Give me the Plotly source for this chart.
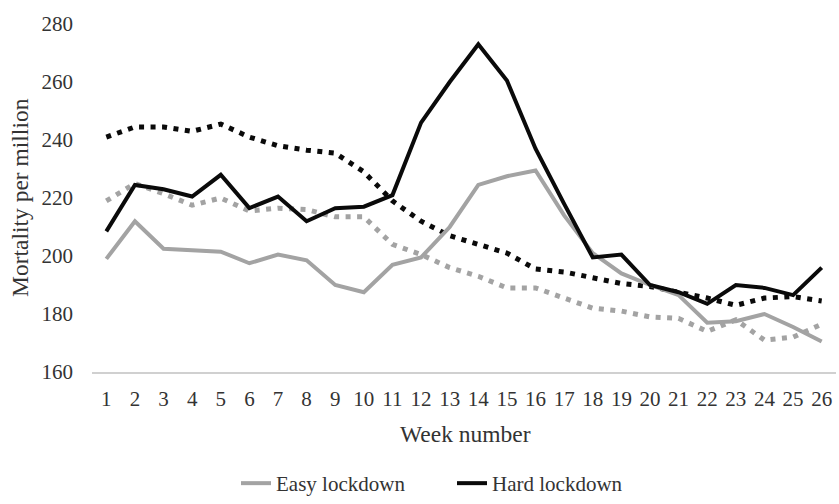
import plotly.graph_objects as go

weeks = list(range(1, 27))

easy_lockdown = [199, 212, 202.5, 202, 201.5, 197.5, 200.5, 198.5, 190, 187.5,
                 197, 199.5, 210, 224.5, 227.5, 229.5, 214, 201, 194, 190,
                 186.5, 177, 177.5, 180, 175.5, 170.5]
hard_lockdown = [208.5, 224.5, 223, 220.5, 228, 216.5, 220.5, 212, 216.5, 217,
                 221, 246, 260, 273, 260.5, 237, 218, 199.5, 200.5, 190,
                 187.5, 183.5, 190, 189, 186.5, 196]
easy_reference = [219, 225, 221.5, 217.5, 220, 215.5, 216.5, 216, 213.5, 213.5,
                  204, 200.5, 196, 193, 189, 189, 185.5, 182, 181, 179,
                  178.5, 174, 178, 171, 172, 176.5]
hard_reference = [241, 244.5, 244.5, 243, 245.5, 241, 238, 236.5, 235.5, 229,
                  219, 212, 207, 204, 201, 195.5, 194.5, 192.5, 190.5, 189.5,
                  187.5, 185.5, 183, 185.5, 186, 184.5]
y_ticks = [160, 180, 200, 220, 240, 260, 280]

GRAY = "#a3a3a3"
BLACK = "#0a0a0a"
FONT = "Liberation Serif"
TXT = "#333333"

fig = go.Figure()
fig.add_trace(go.Scatter(x=weeks, y=easy_reference, mode="lines", showlegend=False,
                         line=dict(color=GRAY, width=5, dash="5px,6.5px")))
fig.add_trace(go.Scatter(x=weeks, y=hard_reference, mode="lines", showlegend=False,
                         line=dict(color=BLACK, width=5, dash="5px,6.5px")))
fig.add_trace(go.Scatter(x=weeks, y=easy_lockdown, mode="lines", name="Easy lockdown",
                         line=dict(color=GRAY, width=4)))
fig.add_trace(go.Scatter(x=weeks, y=hard_lockdown, mode="lines", name="Hard lockdown",
                         line=dict(color=BLACK, width=4)))

fig.update_layout(
    width=839, height=504,
    margin=dict(l=92, r=3, t=24, b=132, autoexpand=False),
    paper_bgcolor="white", plot_bgcolor="white",
    font=dict(family=FONT, size=21, color=TXT),
    showlegend=True,
    legend=dict(orientation="h", xref="container", yref="container",
                x=236 / 839, xanchor="left", y=0.0, yanchor="bottom",
                font=dict(size=21, color=TXT), itemwidth=30,
                entrywidth=171, entrywidthmode="pixels",
                traceorder="normal"),
    annotations=[
        dict(text="Mortality per million", textangle=-90, xref="paper", yref="paper",
             x=(20 - 92) / 744, y=0.5, xanchor="center", yanchor="middle",
             showarrow=False, font=dict(size=23.5, color=TXT)),
        dict(text="Week number", xref="paper", yref="paper",
             x=(465 - 92) / 744, y=(372 - 434) / 348, xanchor="center", yanchor="middle",
             showarrow=False, font=dict(size=23.5, color=TXT)),
    ],
)
fig.update_xaxes(
    range=[0.5, 26.5], tickmode="array", tickvals=weeks,
    ticktext=[str(w) for w in weeks], automargin=False,
    showgrid=False, zeroline=False, showline=True, linecolor="#d0d0d0", linewidth=2,
    ticks="", ticklabelstandoff=7,
)
fig.update_yaxes(
    range=[160, 280], tickvals=y_ticks, automargin=False,
    showgrid=False, zeroline=False, showline=False,
    ticks="", ticklabelstandoff=18,
)

fig.write_html("out.html", config={"displayModeBar": False},
               post_script="document.body.style.margin='0px';")
